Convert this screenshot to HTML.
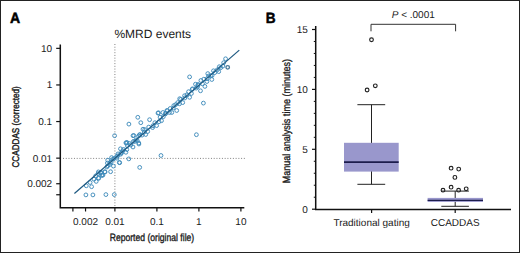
<!DOCTYPE html>
<html><head><meta charset="utf-8"><style>
html,body{margin:0;padding:0;background:#fff;width:520px;height:253px;overflow:hidden}
svg{display:block}
text{font-family:"Liberation Sans",sans-serif;fill:#1a1a1a;text-rendering:geometricPrecision}
</style></head><body>
<svg width="520" height="253" viewBox="0 0 520 253">
<rect x="0.5" y="0.5" width="519" height="252" fill="none" stroke="#222" stroke-width="1"/>
<text transform="translate(10 23) scale(0.95 1)" font-size="14.8" font-weight="bold" stroke="#000" stroke-width="0.5" style="fill:#000">A</text>
<text transform="translate(265.8 23) scale(0.92 1)" font-size="14.8" font-weight="bold" stroke="#000" stroke-width="0.5" style="fill:#000">B</text>
<text x="114.4" y="38.3" font-size="12">%MRD events</text>
<line x1="114.90" y1="44" x2="114.90" y2="207" stroke="#808080" stroke-width="1" stroke-dasharray="1 1.73"/>
<line x1="63" y1="158.4" x2="246" y2="158.4" stroke="#808080" stroke-width="1" stroke-dasharray="1 1.74"/>
<path d="M60.3 44.6 V207.75 H244.3" fill="none" stroke="#111" stroke-width="1.5"/>
<line x1="56.2" y1="48.35" x2="60.3" y2="48.35" stroke="#111" stroke-width="1.2"/>
<text x="52.2" y="51.85" font-size="10" text-anchor="end">10</text>
<line x1="56.2" y1="84.95" x2="60.3" y2="84.95" stroke="#111" stroke-width="1.2"/>
<text x="52.2" y="88.45" font-size="10" text-anchor="end">1</text>
<line x1="56.2" y1="121.55" x2="60.3" y2="121.55" stroke="#111" stroke-width="1.2"/>
<text x="52.2" y="125.05" font-size="10" text-anchor="end">0.1</text>
<line x1="56.2" y1="158.15" x2="60.3" y2="158.15" stroke="#111" stroke-width="1.2"/>
<text x="52.2" y="161.65" font-size="10" text-anchor="end">0.01</text>
<line x1="56.2" y1="183.73" x2="60.3" y2="183.73" stroke="#111" stroke-width="1.2"/>
<text x="52.2" y="187.23" font-size="10" text-anchor="end">0.002</text>
<line x1="56.2" y1="194.75" x2="60.3" y2="194.75" stroke="#111" stroke-width="1.2"/>
<line x1="72.90" y1="207.75" x2="72.90" y2="211.5" stroke="#111" stroke-width="1.2"/>
<line x1="85.54" y1="207.75" x2="85.54" y2="211.5" stroke="#111" stroke-width="1.2"/>
<text x="85.54" y="224.6" font-size="10" text-anchor="middle">0.002</text>
<line x1="114.90" y1="207.75" x2="114.90" y2="211.5" stroke="#111" stroke-width="1.2"/>
<text x="114.90" y="224.6" font-size="10" text-anchor="middle">0.01</text>
<line x1="156.90" y1="207.75" x2="156.90" y2="211.5" stroke="#111" stroke-width="1.2"/>
<text x="156.90" y="224.6" font-size="10" text-anchor="middle">0.1</text>
<line x1="198.90" y1="207.75" x2="198.90" y2="211.5" stroke="#111" stroke-width="1.2"/>
<text x="198.90" y="224.6" font-size="10" text-anchor="middle">1</text>
<line x1="240.90" y1="207.75" x2="240.90" y2="211.5" stroke="#111" stroke-width="1.2"/>
<text x="240.90" y="224.6" font-size="10" text-anchor="middle">10</text>
<text x="109.7" y="240.7" font-size="10.5" textLength="84.5" lengthAdjust="spacingAndGlyphs" stroke="#1a1a1a" stroke-width="0.35">Reported (original file)</text>
<text transform="translate(19.2 167.5) rotate(-90)" x="0" y="0" font-size="9.7" textLength="81.3" lengthAdjust="spacingAndGlyphs" stroke="#1a1a1a" stroke-width="0.4">CCADDAS (corrected)</text>
<circle cx="85.9" cy="194.9" r="1.9" fill="none" stroke="#3f8bbb" stroke-width="0.95"/>
<circle cx="92.9" cy="194.9" r="1.9" fill="none" stroke="#3f8bbb" stroke-width="0.95"/>
<circle cx="105.9" cy="194.6" r="1.9" fill="none" stroke="#3f8bbb" stroke-width="0.95"/>
<circle cx="114.3" cy="194.6" r="1.9" fill="none" stroke="#3f8bbb" stroke-width="0.95"/>
<circle cx="91.6" cy="186.7" r="1.9" fill="none" stroke="#3f8bbb" stroke-width="0.95"/>
<circle cx="86.3" cy="185.8" r="1.9" fill="none" stroke="#3f8bbb" stroke-width="0.95"/>
<circle cx="90.1" cy="182.5" r="1.9" fill="none" stroke="#3f8bbb" stroke-width="0.95"/>
<circle cx="94" cy="179.2" r="1.9" fill="none" stroke="#3f8bbb" stroke-width="0.95"/>
<circle cx="96.2" cy="181.4" r="1.9" fill="none" stroke="#3f8bbb" stroke-width="0.95"/>
<circle cx="95.7" cy="175.9" r="1.9" fill="none" stroke="#3f8bbb" stroke-width="0.95"/>
<circle cx="98.7" cy="178.3" r="1.9" fill="none" stroke="#3f8bbb" stroke-width="0.95"/>
<circle cx="98.1" cy="173.6" r="1.9" fill="none" stroke="#3f8bbb" stroke-width="0.95"/>
<circle cx="101.1" cy="172.4" r="1.9" fill="none" stroke="#3f8bbb" stroke-width="0.95"/>
<circle cx="101.7" cy="175.3" r="1.9" fill="none" stroke="#3f8bbb" stroke-width="0.95"/>
<circle cx="103" cy="175" r="1.9" fill="none" stroke="#3f8bbb" stroke-width="0.95"/>
<circle cx="119.7" cy="162.7" r="1.9" fill="none" stroke="#3f8bbb" stroke-width="0.95"/>
<circle cx="113.4" cy="166.1" r="1.9" fill="none" stroke="#3f8bbb" stroke-width="0.95"/>
<circle cx="110.6" cy="171.7" r="1.9" fill="none" stroke="#3f8bbb" stroke-width="0.95"/>
<circle cx="107.8" cy="165.8" r="1.9" fill="none" stroke="#3f8bbb" stroke-width="0.95"/>
<circle cx="105.1" cy="171.9" r="1.9" fill="none" stroke="#3f8bbb" stroke-width="0.95"/>
<circle cx="102.3" cy="175.3" r="1.9" fill="none" stroke="#3f8bbb" stroke-width="0.95"/>
<circle cx="98.4" cy="171.9" r="1.9" fill="none" stroke="#3f8bbb" stroke-width="0.95"/>
<circle cx="100.6" cy="173" r="1.9" fill="none" stroke="#3f8bbb" stroke-width="0.95"/>
<circle cx="98.4" cy="178" r="1.9" fill="none" stroke="#3f8bbb" stroke-width="0.95"/>
<circle cx="110" cy="162.5" r="1.9" fill="none" stroke="#3f8bbb" stroke-width="0.95"/>
<circle cx="114" cy="158.6" r="1.9" fill="none" stroke="#3f8bbb" stroke-width="0.95"/>
<circle cx="116.7" cy="156.4" r="1.9" fill="none" stroke="#3f8bbb" stroke-width="0.95"/>
<circle cx="120.6" cy="154.2" r="1.9" fill="none" stroke="#3f8bbb" stroke-width="0.95"/>
<circle cx="104.7" cy="171.8" r="1.9" fill="none" stroke="#3f8bbb" stroke-width="0.95"/>
<circle cx="109.6" cy="164.5" r="1.9" fill="none" stroke="#3f8bbb" stroke-width="0.95"/>
<circle cx="107.7" cy="160.2" r="1.9" fill="none" stroke="#3f8bbb" stroke-width="0.95"/>
<circle cx="111.6" cy="157.6" r="1.9" fill="none" stroke="#3f8bbb" stroke-width="0.95"/>
<circle cx="114.6" cy="135.7" r="1.9" fill="none" stroke="#3f8bbb" stroke-width="0.95"/>
<circle cx="133" cy="135.7" r="1.9" fill="none" stroke="#3f8bbb" stroke-width="0.95"/>
<circle cx="139.5" cy="135.1" r="1.9" fill="none" stroke="#3f8bbb" stroke-width="0.95"/>
<circle cx="125.9" cy="142.8" r="1.9" fill="none" stroke="#3f8bbb" stroke-width="0.95"/>
<circle cx="138.9" cy="144" r="1.9" fill="none" stroke="#3f8bbb" stroke-width="0.95"/>
<circle cx="133" cy="147" r="1.9" fill="none" stroke="#3f8bbb" stroke-width="0.95"/>
<circle cx="120.5" cy="148.8" r="1.9" fill="none" stroke="#3f8bbb" stroke-width="0.95"/>
<circle cx="125.9" cy="152.3" r="1.9" fill="none" stroke="#3f8bbb" stroke-width="0.95"/>
<circle cx="117.6" cy="155.9" r="1.9" fill="none" stroke="#3f8bbb" stroke-width="0.95"/>
<circle cx="136" cy="139.9" r="1.9" fill="none" stroke="#3f8bbb" stroke-width="0.95"/>
<circle cx="129.4" cy="143.4" r="1.9" fill="none" stroke="#3f8bbb" stroke-width="0.95"/>
<circle cx="123.5" cy="149.4" r="1.9" fill="none" stroke="#3f8bbb" stroke-width="0.95"/>
<circle cx="143" cy="129.2" r="1.9" fill="none" stroke="#3f8bbb" stroke-width="0.95"/>
<circle cx="126.4" cy="143.2" r="1.9" fill="none" stroke="#3f8bbb" stroke-width="0.95"/>
<circle cx="121.5" cy="152.7" r="1.9" fill="none" stroke="#3f8bbb" stroke-width="0.95"/>
<circle cx="161" cy="155.5" r="1.9" fill="none" stroke="#3f8bbb" stroke-width="0.95"/>
<circle cx="139.7" cy="167.4" r="1.9" fill="none" stroke="#3f8bbb" stroke-width="0.95"/>
<circle cx="128.8" cy="158.9" r="1.9" fill="none" stroke="#3f8bbb" stroke-width="0.95"/>
<circle cx="119.3" cy="162.5" r="1.9" fill="none" stroke="#3f8bbb" stroke-width="0.95"/>
<circle cx="128.9" cy="124.1" r="1.9" fill="none" stroke="#3f8bbb" stroke-width="0.95"/>
<circle cx="137.8" cy="117.3" r="1.9" fill="none" stroke="#3f8bbb" stroke-width="0.95"/>
<circle cx="140.8" cy="122.7" r="1.9" fill="none" stroke="#3f8bbb" stroke-width="0.95"/>
<circle cx="149.6" cy="119.7" r="1.9" fill="none" stroke="#3f8bbb" stroke-width="0.95"/>
<circle cx="158.5" cy="112.8" r="1.9" fill="none" stroke="#3f8bbb" stroke-width="0.95"/>
<circle cx="156.6" cy="125.6" r="1.9" fill="none" stroke="#3f8bbb" stroke-width="0.95"/>
<circle cx="152.6" cy="127.6" r="1.9" fill="none" stroke="#3f8bbb" stroke-width="0.95"/>
<circle cx="144.7" cy="129.6" r="1.9" fill="none" stroke="#3f8bbb" stroke-width="0.95"/>
<circle cx="145.7" cy="134.5" r="1.9" fill="none" stroke="#3f8bbb" stroke-width="0.95"/>
<circle cx="139.8" cy="134.5" r="1.9" fill="none" stroke="#3f8bbb" stroke-width="0.95"/>
<circle cx="133.8" cy="135.5" r="1.9" fill="none" stroke="#3f8bbb" stroke-width="0.95"/>
<circle cx="126.9" cy="142.4" r="1.9" fill="none" stroke="#3f8bbb" stroke-width="0.95"/>
<circle cx="138.8" cy="143" r="1.9" fill="none" stroke="#3f8bbb" stroke-width="0.95"/>
<circle cx="134.8" cy="141.4" r="1.9" fill="none" stroke="#3f8bbb" stroke-width="0.95"/>
<circle cx="161.5" cy="120.7" r="1.9" fill="none" stroke="#3f8bbb" stroke-width="0.95"/>
<circle cx="165.5" cy="113.8" r="1.9" fill="none" stroke="#3f8bbb" stroke-width="0.95"/>
<circle cx="167.4" cy="110.8" r="1.9" fill="none" stroke="#3f8bbb" stroke-width="0.95"/>
<circle cx="189.6" cy="76.9" r="1.9" fill="none" stroke="#3f8bbb" stroke-width="0.95"/>
<circle cx="195.5" cy="84.2" r="1.9" fill="none" stroke="#3f8bbb" stroke-width="0.95"/>
<circle cx="200.5" cy="90.8" r="1.9" fill="none" stroke="#3f8bbb" stroke-width="0.95"/>
<circle cx="203.4" cy="103.1" r="1.9" fill="none" stroke="#3f8bbb" stroke-width="0.95"/>
<circle cx="197.5" cy="86.8" r="1.9" fill="none" stroke="#3f8bbb" stroke-width="0.95"/>
<circle cx="192.5" cy="88.8" r="1.9" fill="none" stroke="#3f8bbb" stroke-width="0.95"/>
<circle cx="188.6" cy="91.7" r="1.9" fill="none" stroke="#3f8bbb" stroke-width="0.95"/>
<circle cx="184.6" cy="95.7" r="1.9" fill="none" stroke="#3f8bbb" stroke-width="0.95"/>
<circle cx="189.6" cy="97.3" r="1.9" fill="none" stroke="#3f8bbb" stroke-width="0.95"/>
<circle cx="182.7" cy="102.6" r="1.9" fill="none" stroke="#3f8bbb" stroke-width="0.95"/>
<circle cx="177.7" cy="102.6" r="1.9" fill="none" stroke="#3f8bbb" stroke-width="0.95"/>
<circle cx="173.8" cy="105.6" r="1.9" fill="none" stroke="#3f8bbb" stroke-width="0.95"/>
<circle cx="176.7" cy="110.5" r="1.9" fill="none" stroke="#3f8bbb" stroke-width="0.95"/>
<circle cx="171.8" cy="112.5" r="1.9" fill="none" stroke="#3f8bbb" stroke-width="0.95"/>
<circle cx="166.9" cy="110.5" r="1.9" fill="none" stroke="#3f8bbb" stroke-width="0.95"/>
<circle cx="162.9" cy="112.5" r="1.9" fill="none" stroke="#3f8bbb" stroke-width="0.95"/>
<circle cx="158" cy="113.1" r="1.9" fill="none" stroke="#3f8bbb" stroke-width="0.95"/>
<circle cx="179.7" cy="98.7" r="1.9" fill="none" stroke="#3f8bbb" stroke-width="0.95"/>
<circle cx="196.4" cy="134.7" r="1.9" fill="none" stroke="#3f8bbb" stroke-width="0.95"/>
<circle cx="225.6" cy="58.8" r="1.9" fill="none" stroke="#3f8bbb" stroke-width="0.95"/>
<circle cx="220.7" cy="67.7" r="1.9" fill="none" stroke="#3f8bbb" stroke-width="0.95"/>
<circle cx="218.7" cy="71.6" r="1.9" fill="none" stroke="#3f8bbb" stroke-width="0.95"/>
<circle cx="214.8" cy="72.6" r="1.9" fill="none" stroke="#3f8bbb" stroke-width="0.95"/>
<circle cx="210.8" cy="75.6" r="1.9" fill="none" stroke="#3f8bbb" stroke-width="0.95"/>
<circle cx="207.8" cy="73.6" r="1.9" fill="none" stroke="#3f8bbb" stroke-width="0.95"/>
<circle cx="211.8" cy="79.5" r="1.9" fill="none" stroke="#3f8bbb" stroke-width="0.95"/>
<circle cx="206.9" cy="81.5" r="1.9" fill="none" stroke="#3f8bbb" stroke-width="0.95"/>
<circle cx="204.9" cy="86.4" r="1.9" fill="none" stroke="#3f8bbb" stroke-width="0.95"/>
<circle cx="198" cy="84.5" r="1.9" fill="none" stroke="#3f8bbb" stroke-width="0.95"/>
<circle cx="200.9" cy="80.5" r="1.9" fill="none" stroke="#3f8bbb" stroke-width="0.95"/>
<circle cx="223.7" cy="62.7" r="1.9" fill="none" stroke="#3f8bbb" stroke-width="0.95"/>
<circle cx="106.9" cy="167.0" r="1.9" fill="none" stroke="#3f8bbb" stroke-width="0.95"/>
<circle cx="107.4" cy="163.1" r="1.9" fill="none" stroke="#3f8bbb" stroke-width="0.95"/>
<circle cx="111.2" cy="162.0" r="1.9" fill="none" stroke="#3f8bbb" stroke-width="0.95"/>
<circle cx="113.0" cy="159.1" r="1.9" fill="none" stroke="#3f8bbb" stroke-width="0.95"/>
<circle cx="117.0" cy="158.2" r="1.9" fill="none" stroke="#3f8bbb" stroke-width="0.95"/>
<circle cx="118.0" cy="153.9" r="1.9" fill="none" stroke="#3f8bbb" stroke-width="0.95"/>
<circle cx="121.2" cy="153.3" r="1.9" fill="none" stroke="#3f8bbb" stroke-width="0.95"/>
<circle cx="122.6" cy="150.8" r="1.9" fill="none" stroke="#3f8bbb" stroke-width="0.95"/>
<circle cx="126.8" cy="149.6" r="1.9" fill="none" stroke="#3f8bbb" stroke-width="0.95"/>
<circle cx="127.4" cy="145.7" r="1.9" fill="none" stroke="#3f8bbb" stroke-width="0.95"/>
<circle cx="130.8" cy="145.0" r="1.9" fill="none" stroke="#3f8bbb" stroke-width="0.95"/>
<circle cx="133.4" cy="141.4" r="1.9" fill="none" stroke="#3f8bbb" stroke-width="0.95"/>
<circle cx="137.2" cy="140.6" r="1.9" fill="none" stroke="#3f8bbb" stroke-width="0.95"/>
<circle cx="138.5" cy="136.1" r="1.9" fill="none" stroke="#3f8bbb" stroke-width="0.95"/>
<circle cx="142.1" cy="135.1" r="1.9" fill="none" stroke="#3f8bbb" stroke-width="0.95"/>
<circle cx="144.3" cy="132.0" r="1.9" fill="none" stroke="#3f8bbb" stroke-width="0.95"/>
<circle cx="147.7" cy="131.5" r="1.9" fill="none" stroke="#3f8bbb" stroke-width="0.95"/>
<circle cx="148.7" cy="127.1" r="1.9" fill="none" stroke="#3f8bbb" stroke-width="0.95"/>
<circle cx="152.9" cy="125.8" r="1.9" fill="none" stroke="#3f8bbb" stroke-width="0.95"/>
<circle cx="154.9" cy="122.7" r="1.9" fill="none" stroke="#3f8bbb" stroke-width="0.95"/>
<circle cx="159.0" cy="121.7" r="1.9" fill="none" stroke="#3f8bbb" stroke-width="0.95"/>
<circle cx="160.1" cy="117.2" r="1.9" fill="none" stroke="#3f8bbb" stroke-width="0.95"/>
<circle cx="163.3" cy="116.7" r="1.9" fill="none" stroke="#3f8bbb" stroke-width="0.95"/>
<circle cx="165.6" cy="113.4" r="1.9" fill="none" stroke="#3f8bbb" stroke-width="0.95"/>
<circle cx="169.5" cy="112.5" r="1.9" fill="none" stroke="#3f8bbb" stroke-width="0.95"/>
<circle cx="170.2" cy="108.5" r="1.9" fill="none" stroke="#3f8bbb" stroke-width="0.95"/>
<circle cx="173.3" cy="108.0" r="1.9" fill="none" stroke="#3f8bbb" stroke-width="0.95"/>
<circle cx="175.7" cy="104.6" r="1.9" fill="none" stroke="#3f8bbb" stroke-width="0.95"/>
<circle cx="179.5" cy="103.8" r="1.9" fill="none" stroke="#3f8bbb" stroke-width="0.95"/>
<circle cx="180.7" cy="99.4" r="1.9" fill="none" stroke="#3f8bbb" stroke-width="0.95"/>
<circle cx="184.8" cy="98.0" r="1.9" fill="none" stroke="#3f8bbb" stroke-width="0.95"/>
<circle cx="187.0" cy="94.8" r="1.9" fill="none" stroke="#3f8bbb" stroke-width="0.95"/>
<circle cx="191.4" cy="93.5" r="1.9" fill="none" stroke="#3f8bbb" stroke-width="0.95"/>
<circle cx="192.2" cy="89.4" r="1.9" fill="none" stroke="#3f8bbb" stroke-width="0.95"/>
<circle cx="196.2" cy="88.1" r="1.9" fill="none" stroke="#3f8bbb" stroke-width="0.95"/>
<circle cx="198.1" cy="85.1" r="1.9" fill="none" stroke="#3f8bbb" stroke-width="0.95"/>
<circle cx="202.5" cy="83.8" r="1.9" fill="none" stroke="#3f8bbb" stroke-width="0.95"/>
<circle cx="203.8" cy="79.2" r="1.9" fill="none" stroke="#3f8bbb" stroke-width="0.95"/>
<circle cx="207.1" cy="78.7" r="1.9" fill="none" stroke="#3f8bbb" stroke-width="0.95"/>
<circle cx="208.6" cy="76.0" r="1.9" fill="none" stroke="#3f8bbb" stroke-width="0.95"/>
<circle cx="212.1" cy="75.5" r="1.9" fill="none" stroke="#3f8bbb" stroke-width="0.95"/>
<circle cx="213.5" cy="70.8" r="1.9" fill="none" stroke="#3f8bbb" stroke-width="0.95"/>
<circle cx="217.2" cy="69.9" r="1.9" fill="none" stroke="#3f8bbb" stroke-width="0.95"/>
<circle cx="219.3" cy="66.7" r="1.9" fill="none" stroke="#3f8bbb" stroke-width="0.95"/>
<circle cx="222.9" cy="66.1" r="1.9" fill="none" stroke="#3f8bbb" stroke-width="0.95"/>
<circle cx="227.7" cy="67.3" r="1.75" fill="none" stroke="#4a7a9a" stroke-width="1.35"/>
<line x1="74.4" y1="193.5" x2="239.3" y2="50.1" stroke="#1f5a82" stroke-width="1.25"/>
<path d="M315.7 26 V209.5 H511" fill="none" stroke="#111" stroke-width="1.5"/>
<line x1="312" y1="209.20" x2="315.7" y2="209.20" stroke="#111" stroke-width="1.2"/>
<text x="307.8" y="212.60" font-size="10" text-anchor="end">0</text>
<line x1="313.8" y1="197.22" x2="315.7" y2="197.22" stroke="#111" stroke-width="1"/>
<line x1="313.8" y1="185.24" x2="315.7" y2="185.24" stroke="#111" stroke-width="1"/>
<line x1="313.8" y1="173.26" x2="315.7" y2="173.26" stroke="#111" stroke-width="1"/>
<line x1="313.8" y1="161.28" x2="315.7" y2="161.28" stroke="#111" stroke-width="1"/>
<line x1="312" y1="149.30" x2="315.7" y2="149.30" stroke="#111" stroke-width="1.2"/>
<text x="307.8" y="152.70" font-size="10" text-anchor="end">5</text>
<line x1="313.8" y1="137.32" x2="315.7" y2="137.32" stroke="#111" stroke-width="1"/>
<line x1="313.8" y1="125.34" x2="315.7" y2="125.34" stroke="#111" stroke-width="1"/>
<line x1="313.8" y1="113.36" x2="315.7" y2="113.36" stroke="#111" stroke-width="1"/>
<line x1="313.8" y1="101.38" x2="315.7" y2="101.38" stroke="#111" stroke-width="1"/>
<line x1="312" y1="89.40" x2="315.7" y2="89.40" stroke="#111" stroke-width="1.2"/>
<text x="307.8" y="92.80" font-size="10" text-anchor="end">10</text>
<line x1="313.8" y1="77.42" x2="315.7" y2="77.42" stroke="#111" stroke-width="1"/>
<line x1="313.8" y1="65.44" x2="315.7" y2="65.44" stroke="#111" stroke-width="1"/>
<line x1="313.8" y1="53.46" x2="315.7" y2="53.46" stroke="#111" stroke-width="1"/>
<line x1="313.8" y1="41.48" x2="315.7" y2="41.48" stroke="#111" stroke-width="1"/>
<line x1="312" y1="29.50" x2="315.7" y2="29.50" stroke="#111" stroke-width="1.2"/>
<text x="307.8" y="32.90" font-size="10" text-anchor="end">15</text>
<line x1="371.6" y1="209.5" x2="371.6" y2="213" stroke="#111" stroke-width="1.2"/>
<line x1="455.2" y1="209.5" x2="455.2" y2="213" stroke="#111" stroke-width="1.2"/>
<text x="371.6" y="225.8" font-size="10" text-anchor="middle">Traditional gating</text>
<text x="455.2" y="225.8" font-size="10" text-anchor="middle">CCADDAS</text>
<text transform="translate(290 183.3) rotate(-90)" x="0" y="0" font-size="10.5" textLength="124.3" lengthAdjust="spacingAndGlyphs" stroke="#1a1a1a" stroke-width="0.35">Manual analysis time (minutes)</text>
<line x1="371.5" y1="104.7" x2="371.5" y2="184.3" stroke="#222" stroke-width="1"/>
<line x1="357.4" y1="104.7" x2="385.2" y2="104.7" stroke="#222" stroke-width="1"/>
<line x1="357.4" y1="184.3" x2="385.2" y2="184.3" stroke="#222" stroke-width="1"/>
<rect x="344" y="142.8" width="54.7" height="28.8" fill="#9997cc"/>
<line x1="344" y1="162.1" x2="398.7" y2="162.1" stroke="#1c1c4c" stroke-width="1.6"/>
<circle cx="371.5" cy="39.7" r="1.85" fill="none" stroke="#222" stroke-width="1.15"/>
<circle cx="367.1" cy="90" r="1.85" fill="none" stroke="#222" stroke-width="1.15"/>
<circle cx="375.3" cy="85.8" r="1.85" fill="none" stroke="#222" stroke-width="1.15"/>
<line x1="455.2" y1="191.1" x2="455.2" y2="206.3" stroke="#222" stroke-width="1"/>
<line x1="441.3" y1="191.1" x2="468.9" y2="191.1" stroke="#222" stroke-width="1"/>
<line x1="441.3" y1="206.3" x2="468.9" y2="206.3" stroke="#222" stroke-width="1"/>
<rect x="427.6" y="197.9" width="55.4" height="4.0" fill="#9997cc"/>
<line x1="427.6" y1="200.3" x2="483" y2="200.3" stroke="#1c1c4c" stroke-width="1.3"/>
<circle cx="451.1" cy="168.2" r="1.85" fill="none" stroke="#222" stroke-width="1.15"/>
<circle cx="458.7" cy="169.1" r="1.85" fill="none" stroke="#222" stroke-width="1.15"/>
<circle cx="454.9" cy="177.4" r="1.85" fill="none" stroke="#222" stroke-width="1.15"/>
<circle cx="451.1" cy="187.2" r="1.85" fill="none" stroke="#222" stroke-width="1.15"/>
<circle cx="443" cy="190.2" r="1.85" fill="none" stroke="#222" stroke-width="1.15"/>
<circle cx="458.6" cy="190.2" r="1.85" fill="none" stroke="#222" stroke-width="1.15"/>
<circle cx="466.2" cy="188.8" r="1.85" fill="none" stroke="#222" stroke-width="1.15"/>
<path d="M371 31.3 V24.3 H455.6 V31.3" fill="none" stroke="#333" stroke-width="1"/>
<text x="391.7" y="17.6" font-size="10"><tspan font-style="italic">P</tspan> &lt; .0001</text>
</svg>
</body></html>
